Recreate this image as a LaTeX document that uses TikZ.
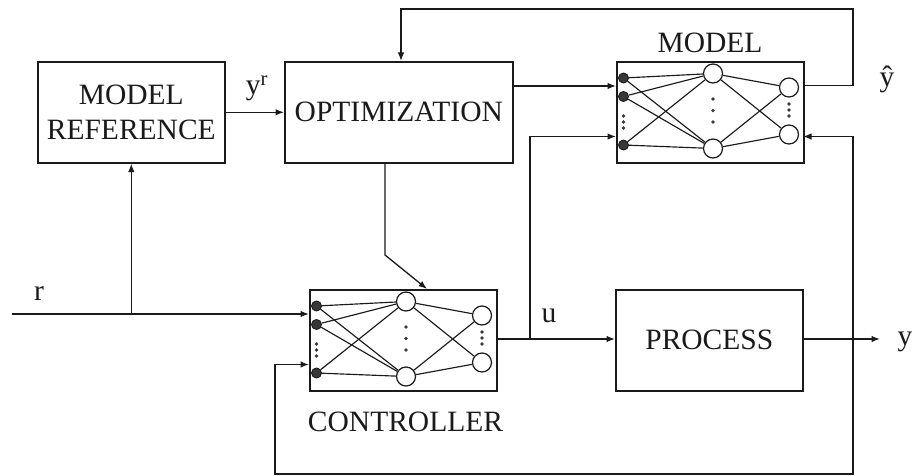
\documentclass[tikz,border=0pt]{standalone}
\usepackage{fontspec}
\setmainfont{Liberation Serif}
\usetikzlibrary{arrows.meta}
\definecolor{ink}{HTML}{1A1A1A}
\definecolor{dotgray}{HTML}{383838}
\newcommand{\nnbox}[3]{%
\begin{scope}[shift={(#2,#3)}, name prefix=#1-]
 \node[nnframe, anchor=north west] (box) at (0,0) {};
 \node[inp] (i1) at (7.5,17) {};
 \node[inp] (i2) at (7.5,35.5) {};
 \node[inp] (i3) at (7.5,84) {};
 \node[neuron] (h1) at (97,12.5) {};
 \node[neuron] (h2) at (97,87.5) {};
 \node[neuron] (o1) at (173,26.5) {};
 \node[neuron] (o2) at (173,73.5) {};
 \foreach \yy in {55,61,67} \fill[dotgray] (7.5,\yy) circle (1.8);
 \foreach \yy in {38,49.5,61} \fill[dotgray] (97,\yy) circle (1.9);
 \foreach \yy in {43,49,55} \fill[dotgray] (173,\yy) circle (1.8);
 \foreach \a in {i1,i2,i3} {\foreach \b in {h1,h2} {\draw[wire] (\a) -- (\b);}}
 \foreach \a in {h1,h2} {\foreach \b in {o1,o2} {\draw[wire] (\a) -- (\b);}}
 \coordinate (inA) at (0,25);
 \coordinate (inB) at (0,75.5);
 \coordinate (outT) at (187,24.5);
 \coordinate (outM) at (187,50);
 \coordinate (outB) at (187,75.5);
 \coordinate (topin) at (118,0);
\end{scope}}
\begin{document}
\begin{tikzpicture}[x=1pt,y=-1pt,
  txt/.style={text=ink, font=\fontsize{29.5}{35.5}\selectfont, inner sep=0pt},
  blk/.style={draw=ink, line width=1.6pt, minimum width=187pt, minimum height=101pt,
    inner sep=0pt, align=center, text=ink, font=\fontsize{29.5}{35.5}\selectfont},
  nnframe/.style={draw=ink, line width=1.6pt, minimum width=187pt, minimum height=101pt, inner sep=0pt},
  inp/.style={circle, draw=ink, fill=dotgray, line width=0.9pt, minimum size=10pt, inner sep=0pt},
  neuron/.style={circle, draw=ink, fill=white, line width=1.2pt, minimum size=19pt, inner sep=0pt},
  wire/.style={draw=ink, line width=1.15pt},
  conn/.style={draw=ink, line width=1.3pt},
  arr/.style={conn, -{Latex[length=8.5pt,width=6.5pt]}},
  arrboth/.style={conn, {Latex[length=8.5pt,width=6.5pt]}-{Latex[length=8.5pt,width=6.5pt]}}]
\useasboundingbox (0,0) rectangle (912,476);

% blocks
\node[blk, anchor=north west] (mref) at (37,61) {MODEL\\REFERENCE};
\node[blk, anchor=north west, minimum width=228pt] (opt) at (284,61) {OPTIMIZATION};
\node[blk, anchor=north west] (proc) at (615,289) {PROCESS};
\nnbox{M}{616}{61}
\nnbox{C}{309}{289}

% labels
\node[txt] (modlab) at (710,43) {MODEL};
\node[txt] (conlab) at (405.5,422) {CONTROLLER};
\node[txt] (rlab) at (39,294) {r};
\node[txt] (ulab) at (549,316) {u};
\node[txt] (ylab) at (905,342) {y};
\node[txt] (yhlab) at (887,79) {ŷ};
\node[txt] (yrlab) at (257,88) {y\textsuperscript{r}};

% coordinates
\coordinate (rin) at (12,314);
\coordinate (topR) at (853,9);
\coordinate (topL) at (401,9);
\coordinate (obend) at (385,255);
\coordinate (ubr) at (530,339);
\coordinate (yout) at (880,339);
\coordinate (fbR) at (853,474);
\coordinate (fbL) at (275,474);

% connectors
\draw[arr] (mref.east) -- (opt.west);
\draw[arr] (opt.east |- M-inA) -- (M-inA);
\draw[arr] (M-outT) -| (topR) -- (topL) -- (opt.north -| topL);
\draw[arr] (opt.south -| obend) -- (obend) -- (C-topin);
\draw[arr] (rin) -- (C-inA);
\draw[arr] (rin -| mref.south) -- (mref.south);
\draw[arr] (C-outM) -- (proc.west |- C-outM);
\draw[arr] (ubr) |- (M-inB);
\draw[arr] (proc.east |- yout) -- (yout);
\draw[arrboth] (M-outB) -| (fbR) -- (fbL) |- (C-inB);
\end{tikzpicture}
\end{document}
